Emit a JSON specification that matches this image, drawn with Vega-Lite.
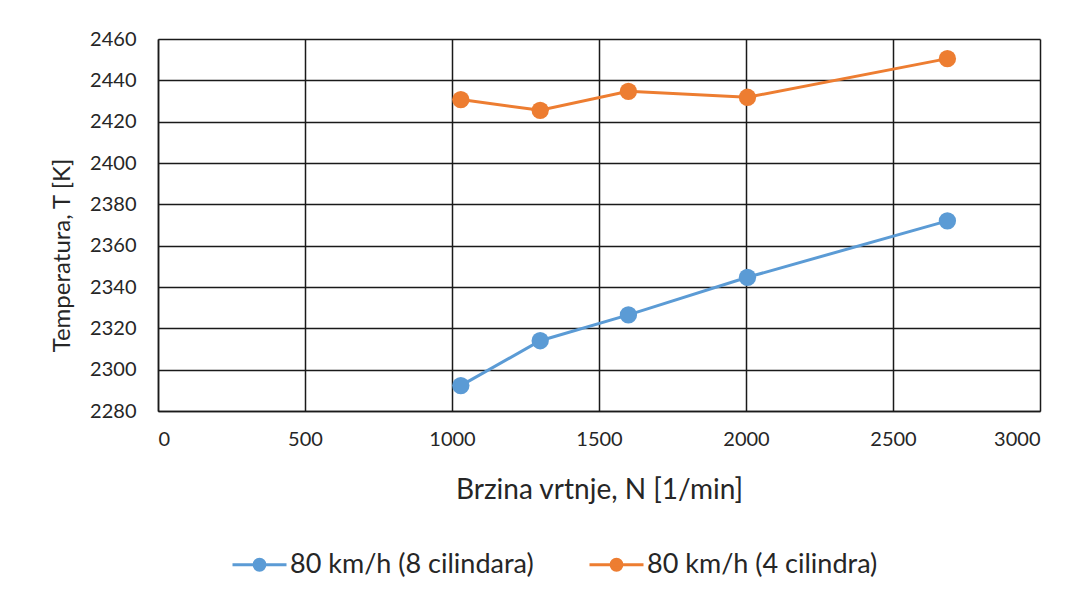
{
  "$schema": "https://vega.github.io/schema/vega-lite/v6.json",
  "width": 882,
  "height": 372,
  "autosize": {"type": "none"},
  "padding": {"left": 158, "top": 39, "right": 39, "bottom": 186},
  "background": "white",
  "config": {
    "view": {"stroke": null},
    "font": "Lato"
  },
  "data": {
    "values": [
      {"N": 1030, "T": 2292.3, "serija": "80 km/h (8 cilindara)"},
      {"N": 1300, "T": 2314.0, "serija": "80 km/h (8 cilindara)"},
      {"N": 1600, "T": 2326.5, "serija": "80 km/h (8 cilindara)"},
      {"N": 2005, "T": 2344.7, "serija": "80 km/h (8 cilindara)"},
      {"N": 2685, "T": 2372.0, "serija": "80 km/h (8 cilindara)"},
      {"N": 1030, "T": 2430.7, "serija": "80 km/h (4 cilindra)"},
      {"N": 1300, "T": 2425.5, "serija": "80 km/h (4 cilindra)"},
      {"N": 1600, "T": 2434.7, "serija": "80 km/h (4 cilindra)"},
      {"N": 2005, "T": 2431.8, "serija": "80 km/h (4 cilindra)"},
      {"N": 2685, "T": 2450.5, "serija": "80 km/h (4 cilindra)"}
    ]
  },
  "mark": {"type": "line", "strokeWidth": 3, "point": {"filled": true, "size": 300, "opacity": 1}},
  "encoding": {
    "x": {
      "field": "N", "type": "quantitative",
      "scale": {"domain": [0, 3000], "nice": false, "zero": false},
      "axis": {
        "values": [0, 500, 1000, 1500, 2000, 2500, 3000],
        "format": "d",
        "title": "Brzina vrtnje, N [1/min]",
        "titleFontSize": 28, "titleFontWeight": "normal", "titleColor": "#262626",
        "titleY": 79, "titleBaseline": "middle",
        "labelFontSize": 20, "labelColor": "#262626", "labelPadding": 18,
        "ticks": false,
        "domainColor": "#1a1a1a", "domainWidth": 1.5,
        "grid": true, "gridColor": "#1a1a1a", "gridWidth": 1.5, "gridOpacity": 1
      }
    },
    "y": {
      "field": "T", "type": "quantitative",
      "scale": {"domain": [2280, 2460], "nice": false, "zero": false},
      "axis": {
        "values": [2280, 2300, 2320, 2340, 2360, 2380, 2400, 2420, 2440, 2460],
        "format": "d",
        "title": "Temperatura, T [K]",
        "titleFontSize": 24, "titleFontWeight": "normal", "titleColor": "#262626",
        "titleX": -96, "titleY": 216, "titleAngle": -90, "titleAlign": "center", "titleBaseline": "middle",
        "labelFontSize": 20, "labelColor": "#262626", "labelPadding": 22,
        "ticks": false,
        "domainColor": "#1a1a1a", "domainWidth": 1.5,
        "grid": true, "gridColor": "#1a1a1a", "gridWidth": 1.5, "gridOpacity": 1
      }
    },
    "color": {
      "field": "serija", "type": "nominal",
      "scale": {"domain": ["80 km/h (8 cilindara)", "80 km/h (4 cilindra)"], "range": ["#5B9BD5", "#ED7D31"]},
      "legend": {
        "title": null,
        "orient": "none",
        "direction": "horizontal",
        "legendX": 73,
        "legendY": 497,
        "symbolType": "M-1,0H1M-0.2,0A0.2,0.2 0 1,1 0.2,0A0.2,0.2 0 1,1 -0.2,0",
        "symbolSize": 2916,
        "symbolStrokeWidth": 3,
        "labelFontSize": 27,
        "labelColor": "#262626",
        "labelOffset": 2,
        "columnPadding": 49,
        "labelLimit": 400,
        "encode": {
          "symbols": {
            "update": {
              "fill": {"scale": "color", "field": "value"},
              "stroke": {"scale": "color", "field": "value"},
              "opacity": {"value": 1}
            }
          }
        }
      }
    }
  }
}
